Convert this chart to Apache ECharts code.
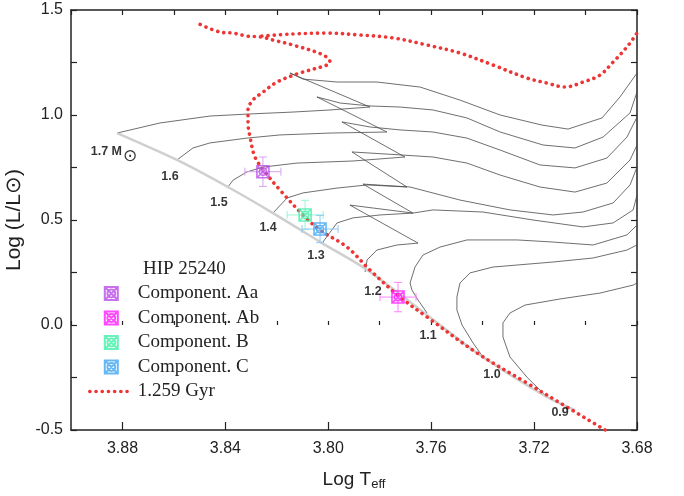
<!DOCTYPE html>
<html>
<head>
<meta charset="utf-8">
<script src="https://cdn.jsdelivr.net/npm/echarts@6/dist/echarts.min.js"></script>
<style>
  html, body { margin: 0; padding: 0; background: #fff; }
  #chart { width: 684px; height: 496px; }
</style>
</head>
<body>
<div id="chart"></div>
<script>
// values: [log Teff, log L/Lsun]
const zams = [[3.8821, 0.914], [3.8588, 0.786], [3.8390, 0.657], [3.8215, 0.533], [3.8024, 0.390],
  [3.7849, 0.262], [3.7616, 0.048], [3.7422, -0.133], [3.7150, -0.343], [3.7041, -0.405]];

const track17 = [[3.8821, 0.914], [3.8654, 0.962], [3.8460, 0.995], [3.8304, 1.005], [3.8137, 1.014],
  [3.7993, 1.024], [3.7838, 1.038], [3.8149, 1.200], [3.8098, 1.171], [3.7966, 1.157], [3.7811, 1.157],
  [3.7643, 1.133], [3.7488, 1.071], [3.7332, 1.000], [3.7169, 0.952], [3.7068, 0.933], [3.6936, 0.986],
  [3.6866, 1.086], [3.6800, 1.200]];
const track16 = [[3.8588, 0.786], [3.8526, 0.843], [3.8460, 0.867], [3.8316, 0.890], [3.8188, 0.905],
  [3.7993, 0.914], [3.7772, 0.919], [3.8044, 1.086], [3.7954, 1.057], [3.7838, 1.043], [3.7721, 1.038],
  [3.7593, 1.024], [3.7461, 0.986], [3.7332, 0.919], [3.7165, 0.857], [3.7041, 0.843], [3.6932, 0.895],
  [3.6827, 1.010], [3.6800, 1.110]];
const track15 = [[3.8390, 0.657], [3.8370, 0.690], [3.8316, 0.729], [3.8254, 0.752], [3.8122, 0.771],
  [3.7904, 0.781], [3.7702, 0.800], [3.7947, 0.967], [3.7838, 0.943], [3.7721, 0.929], [3.7593, 0.919],
  [3.7461, 0.890], [3.7332, 0.833], [3.7177, 0.762], [3.7041, 0.748], [3.6917, 0.795], [3.6839, 0.895],
  [3.6800, 0.990]];
const track14 = [[3.8215, 0.533], [3.8160, 0.605], [3.8098, 0.629], [3.7966, 0.652], [3.7849, 0.667],
  [3.7694, 0.657], [3.7908, 0.824], [3.7721, 0.810], [3.7593, 0.800], [3.7461, 0.771], [3.7332, 0.714],
  [3.7177, 0.657], [3.7041, 0.633], [3.6917, 0.676], [3.6827, 0.786], [3.6800, 0.857]];
const track13 = [[3.8024, 0.390], [3.7966, 0.486], [3.7904, 0.510], [3.7799, 0.524], [3.7671, 0.533],
  [3.7865, 0.671], [3.7682, 0.657], [3.7488, 0.595], [3.7294, 0.548], [3.7126, 0.524], [3.7010, 0.538],
  [3.6893, 0.581], [3.6827, 0.667], [3.6800, 0.752]];
const track12 = [[3.7857, 0.252], [3.7849, 0.310], [3.7811, 0.357], [3.7733, 0.381], [3.7651, 0.390],
  [3.7916, 0.571], [3.7671, 0.533], [3.7593, 0.548], [3.7399, 0.538], [3.7204, 0.500], [3.7010, 0.467],
  [3.6893, 0.486], [3.6815, 0.548], [3.6800, 0.619]];
const track11 = [[3.7616, 0.057], [3.7651, 0.119], [3.7675, 0.167], [3.7682, 0.200], [3.7663, 0.276],
  [3.7632, 0.333], [3.7566, 0.371], [3.7461, 0.405], [3.7266, 0.405], [3.7126, 0.395], [3.6971, 0.381],
  [3.6839, 0.429], [3.6800, 0.476]];
const track10 = [[3.7399, -0.152], [3.7437, -0.086], [3.7480, 0.000], [3.7500, 0.071], [3.7500, 0.133],
  [3.7488, 0.200], [3.7449, 0.248], [3.7360, 0.276], [3.7126, 0.300], [3.6971, 0.319], [3.6839, 0.357],
  [3.6800, 0.381]];
const track09 = [[3.7150, -0.343], [3.7228, -0.248], [3.7294, -0.152], [3.7321, -0.057], [3.7321, 0.010],
  [3.7294, 0.057], [3.7235, 0.095], [3.7099, 0.124], [3.6944, 0.152], [3.6815, 0.190], [3.6800, 0.200]];

// 1.259 Gyr isochrone (null = gap between the two branches)
const isochrone = [[3.6924, -0.500], [3.7099, -0.371], [3.7228, -0.276], [3.7422, -0.133], [3.7616, 0.038],
  [3.7721, 0.133], [3.7838, 0.262], [3.7927, 0.371], [3.8032, 0.452], [3.8098, 0.524], [3.8188, 0.643],
  [3.8246, 0.729], [3.8285, 0.800], [3.8304, 0.895], [3.8312, 0.962], [3.8312, 1.024], [3.8293, 1.071],
  [3.8258, 1.105], [3.8199, 1.157], [3.8110, 1.200], [3.8005, 1.238], [3.7993, 1.252], [3.8020, 1.286],
  [3.8137, 1.333], [3.8215, 1.357], [3.8258, 1.371], [3.8316, 1.376], [3.8370, 1.390], [3.8421, 1.395],
  [3.8510, 1.438], null,
  [3.8258, 1.376], [3.8137, 1.386], [3.8005, 1.390], [3.7877, 1.381], [3.7748, 1.367], [3.7616, 1.333],
  [3.7488, 1.295], [3.7360, 1.238], [3.7228, 1.176], [3.7150, 1.152], [3.7080, 1.133], [3.7010, 1.157],
  [3.6944, 1.190], [3.6893, 1.252], [3.6839, 1.324], [3.6800, 1.390]];

const compNames = ['Component. Aa', 'Component. Ab', 'Component. B', 'Component. C'];
const compTeff = [3.8254, 3.7729, 3.8090, 3.8032];
const compLum = [0.730, 0.133, 0.524, 0.457];
const compErrTeff = [0.007, 0.007, 0.007, 0.007];
const compErrLum = [0.070, 0.070, 0.070, 0.065];
const compColors = ['#b94ee8', '#ff1aff', '#3ff0a8', '#3fa6f2'];
const errColors = ['#d8a0f2', '#ff80ff', '#95f5d0', '#90c8f5'];

const massLabels = ['1.7 M{sun|⊙}', '1.6', '1.5', '1.4', '1.3', '1.2', '1.1', '1.0', '0.9'];
const massLabelTeff = [3.8833, 3.8615, 3.8425, 3.8234, 3.8048, 3.7826, 3.7612, 3.7364, 3.7099];
const massLabelLum = [0.824, 0.705, 0.581, 0.462, 0.329, 0.157, -0.052, -0.238, -0.419];

const tracks = [track17, track16, track15, track14, track13, track12, track11, track10, track09];

const marker = 'path://M0,0L20,0L20,20L0,20Z M0,0L20,20 M20,0L0,20 M16,10A6,6,0,1,1,4,10A6,6,0,1,1,16,10Z';
const ink = '#222';
const sans = 'Liberation Sans, Arial, sans-serif';
const serif = 'Liberation Serif, Times New Roman, serif';
const red = '#ee3535';
const redDots = { color: red, width: 3.6, type: [0.1, 6.1], cap: 'round' };

let myChart = echarts.init(document.getElementById('chart'));

let series = [];
tracks.forEach((t, i) => {
  series.push({
    name: 'track' + i, type: 'line', data: t, showSymbol: false, symbol: 'none', silent: true,
    lineStyle: { color: '#4a4a4a', width: 0.8 }, z: 1
  });
});
series.push({
  name: 'zams', type: 'line', data: zams, symbol: 'none', silent: true, smooth: 0.3,
  lineStyle: { color: '#cfcfcf', width: 2.5 }, z: 2
});
series.push({
  name: '1.259 Gyr', type: 'line', data: isochrone, symbol: 'none', silent: true, smooth: 0.35,
  connectNulls: false, itemStyle: { color: red },
  lineStyle: redDots, z: 3
});
series.push({
  name: 'errors', type: 'custom', silent: true, z: 4,
  data: compTeff.map((t, i) => [t, compLum[i], compErrTeff[i], compErrLum[i], i]),
  renderItem: function (params, api) {
    const x = api.value(0), y = api.value(1), ex = api.value(2), ey = api.value(3);
    const c = errColors[api.value(4)];
    const l = api.coord([x + ex, y]), r = api.coord([x - ex, y]);
    const t = api.coord([x, y + ey]), b = api.coord([x, y - ey]);
    const cap = 4;
    const st = { stroke: c, lineWidth: 1 };
    const seg = (x1, y1, x2, y2) => ({ type: 'line', shape: { x1, y1, x2, y2 }, style: st });
    return {
      type: 'group',
      children: [
        seg(l[0], l[1], r[0], r[1]),
        seg(t[0], t[1], b[0], b[1]),
        seg(l[0], l[1] - cap, l[0], l[1] + cap),
        seg(r[0], r[1] - cap, r[0], r[1] + cap),
        seg(t[0] - cap, t[1], t[0] + cap, t[1]),
        seg(b[0] - cap, b[1], b[0] + cap, b[1])
      ]
    };
  }
});
compNames.forEach((n, i) => {
  series.push({
    name: n, type: 'scatter', data: [[compTeff[i], compLum[i]]], symbol: marker, symbolSize: 12,
    itemStyle: { color: 'rgba(0,0,0,0)', borderColor: compColors[i], borderWidth: 1.6 }, z: 5
  });
});
series.push({
  name: 'masses', type: 'scatter', silent: true, symbolSize: 0, z: 6,
  data: massLabels.map((m, i) => ({ value: [massLabelTeff[i], massLabelLum[i]], name: m })),
  label: {
    show: true, position: 'inside', formatter: '{b}', color: '#000',
    fontFamily: sans, fontWeight: 'bold', fontSize: 12.5,
    rich: { sun: { fontFamily: 'DejaVu Sans', fontSize: 17, fontWeight: 'normal', color: '#000', padding: [9, 0, 0, 1] } }
  }
});

const axisLine = { show: true, onZero: false, lineStyle: { color: ink, width: 1.5 } };
const tickStyle = { color: ink, width: 1.2 };

myChart.setOption({
  animation: false,
  backgroundColor: '#fff',
  grid: { left: 71, right: 47, top: 10, bottom: 66, containLabel: false, outerBoundsMode: 'none' },
  legend: {
    data: compNames.concat([{ name: '1.259 Gyr', itemStyle: { opacity: 0 }, lineStyle: redDots }]),
    orient: 'vertical', left: 83, top: 279,
    itemWidth: 43, itemHeight: 13, itemGap: 5.5, selectedMode: false,
    textStyle: { fontFamily: serif, fontSize: 19, color: ink }
  },
  graphic: [{
    type: 'text', left: 143, top: 260,
    style: { text: 'HIP 25240', fontFamily: serif, fontSize: 19, fill: ink }
  }],
  xAxis: [{
    type: 'value', min: 3.68, max: 3.90, inverse: true, interval: 0.04, position: 'bottom',
    axisLine: axisLine,
    axisTick: { inside: true, length: 8, lineStyle: tickStyle },
    splitLine: { show: false },
    axisLabel: { fontFamily: sans, fontSize: 16, color: ink, margin: 11, showMaxLabel: false,
      formatter: v => v.toFixed(2) },
    name: 'Log T{sub|eff}', nameLocation: 'middle', nameGap: 38,
    nameTextStyle: { fontFamily: sans, fontSize: 19, color: ink,
      rich: { sub: { fontFamily: sans, fontSize: 13, color: ink, padding: [10, 0, 0, 0] } } }
  }, {
    type: 'value', min: 3.68, max: 3.90, inverse: true, interval: 0.02, position: 'top',
    axisLine: axisLine,
    axisTick: { inside: true, length: 5, lineStyle: tickStyle },
    splitLine: { show: false }, axisLabel: { show: false }
  }, {
    type: 'value', min: 3.68, max: 3.90, inverse: true, interval: 0.02, position: 'bottom',
    axisLine: { show: false },
    axisTick: { inside: true, length: 4, lineStyle: tickStyle },
    splitLine: { show: false }, axisLabel: { show: false }
  }],
  yAxis: [{
    type: 'value', min: -0.5, max: 1.5, interval: 0.25, position: 'left',
    axisLine: axisLine,
    axisTick: { inside: true, length: 6, lineStyle: tickStyle },
    splitLine: { show: false },
    axisLabel: { fontFamily: sans, fontSize: 16, color: ink, margin: 8,
      formatter: v => (Math.abs(v * 2 - Math.round(v * 2)) < 1e-6 ? v.toFixed(1) : '') },
    name: 'Log (L/L⊙)', nameLocation: 'middle', nameGap: 33, nameRotate: 90,
    nameTextStyle: { fontFamily: sans, fontSize: 21, color: ink }
  }, {
    type: 'value', min: -0.5, max: 1.5, interval: 0.25, position: 'right',
    axisLine: axisLine,
    axisTick: { inside: true, length: 6, lineStyle: tickStyle },
    splitLine: { show: false }, axisLabel: { show: false }
  }],
  series: series
});
</script>
</body>
</html>
